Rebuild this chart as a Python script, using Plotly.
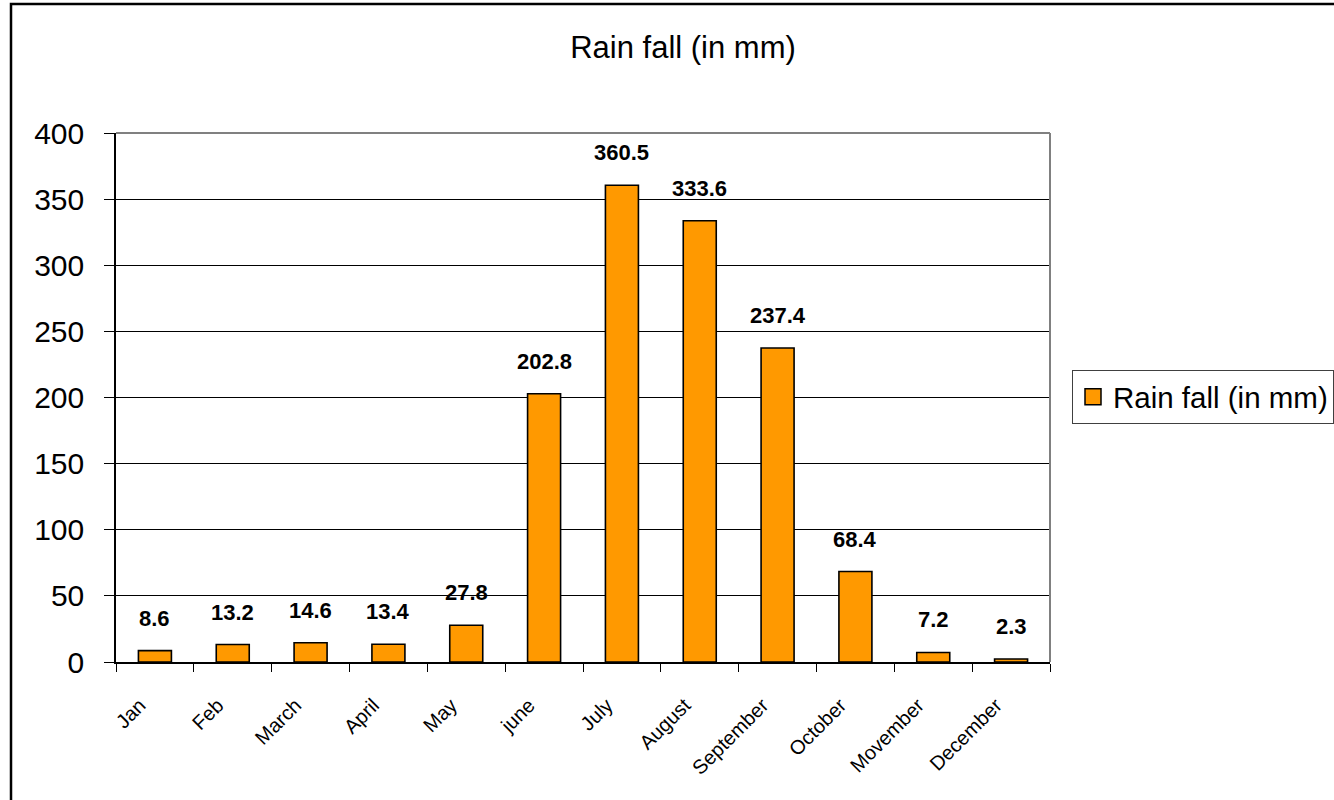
import plotly.graph_objects as go

# Monthly rainfall data
months = ["Jan", "Feb", "March", "April", "May", "june", "July",
          "August", "September", "October", "Movember", "December"]
rainfall = [8.6, 13.2, 14.6, 13.4, 27.8, 202.8, 360.5, 333.6, 237.4, 68.4, 7.2, 2.3]
y_ticks = [0, 50, 100, 150, 200, 250, 300, 350, 400]
series_name = "Rain fall (in mm)"

W, H = 1334, 800
L, R, T, B = 116, 284, 133, 138
plot_w = W - L - R
plot_h = H - T - B


def px_x(p):
    return (p - L) / plot_w


def px_y(p):
    return (H - B - p) / plot_h


BAR_COLOR = "#FF9900"
FONT = "Liberation Sans, Arial, sans-serif"

fig = go.Figure()
fig.add_trace(go.Bar(
    x=months, y=rainfall, name=series_name,
    marker=dict(color=BAR_COLOR, line=dict(color="#000000", width=1.6)),
    showlegend=False,
))
# legend entry with a larger square swatch
fig.add_trace(go.Scatter(
    x=[None], y=[None], mode="markers", name=series_name,
    marker=dict(symbol="square", size=17, color=BAR_COLOR,
                line=dict(color="#000000", width=1.5)),
    showlegend=True,
))

annotations = []
for m, v in zip(months, rainfall):
    annotations.append(dict(
        x=m, y=v, xref="x", yref="y", text=f"{v}",
        showarrow=False, yanchor="bottom", yshift=18,
        font=dict(family=FONT, size=22, color="#000000", weight="bold"),
    ))

shapes = [
    # plot area border: top and right in grey
    dict(type="line", xref="paper", yref="paper", x0=0, x1=1, y0=1, y1=1,
         line=dict(color="#808080", width=2), layer="above"),
    dict(type="line", xref="paper", yref="paper", x0=1, x1=1, y0=0, y1=1,
         line=dict(color="#808080", width=2), layer="above"),
    # outer chart frame
    dict(type="rect", xref="paper", yref="paper",
         x0=px_x(11), x1=px_x(W + 20), y0=px_y(H + 20), y1=px_y(4),
         line=dict(color="#000000", width=2.5), fillcolor="rgba(0,0,0,0)",
         layer="above"),
]

fig.update_layout(
    width=W, height=H,
    margin=dict(l=L, r=R, t=T, b=B, autoexpand=False),
    paper_bgcolor="#FFFFFF", plot_bgcolor="#FFFFFF",
    font=dict(family=FONT, color="#000000"),
    title=dict(text=series_name, x=683 / W, xanchor="center",
               y=1 - 47 / H, yanchor="middle", yref="container",
               font=dict(family=FONT, size=31, color="#000000")),
    bargap=0.576,
    legend=dict(x=px_x(1072), xanchor="left", y=px_y(397), yanchor="middle",
                bordercolor="#404040", borderwidth=1, bgcolor="#FFFFFF",
                font=dict(family=FONT, size=29.5, color="#000000"),
                itemsizing="trace"),
    annotations=annotations,
    shapes=shapes,
)

fig.update_xaxes(
    type="category", categoryorder="array", categoryarray=months,
    showline=True, linecolor="#000000", linewidth=1.5,
    ticks="outside", tickson="boundaries", ticklen=8, tickcolor="#000000",
    tickangle=-45, tickfont=dict(family=FONT, size=20, color="#000000"),
    ticklabelstandoff=22, ticklabelshift=-15,
    showgrid=False, zeroline=False,
)
fig.update_yaxes(
    range=[0, 400], tickvals=y_ticks, ticktext=[str(t) for t in y_ticks],
    showline=True, linecolor="#000000", linewidth=1.5,
    ticks="outside", ticklen=10, tickcolor="#000000",
    tickfont=dict(family=FONT, size=30, color="#000000"),
    ticklabelstandoff=14,
    showgrid=True, gridcolor="#000000", gridwidth=1, zeroline=False,
)

fig.write_html("out.html")
